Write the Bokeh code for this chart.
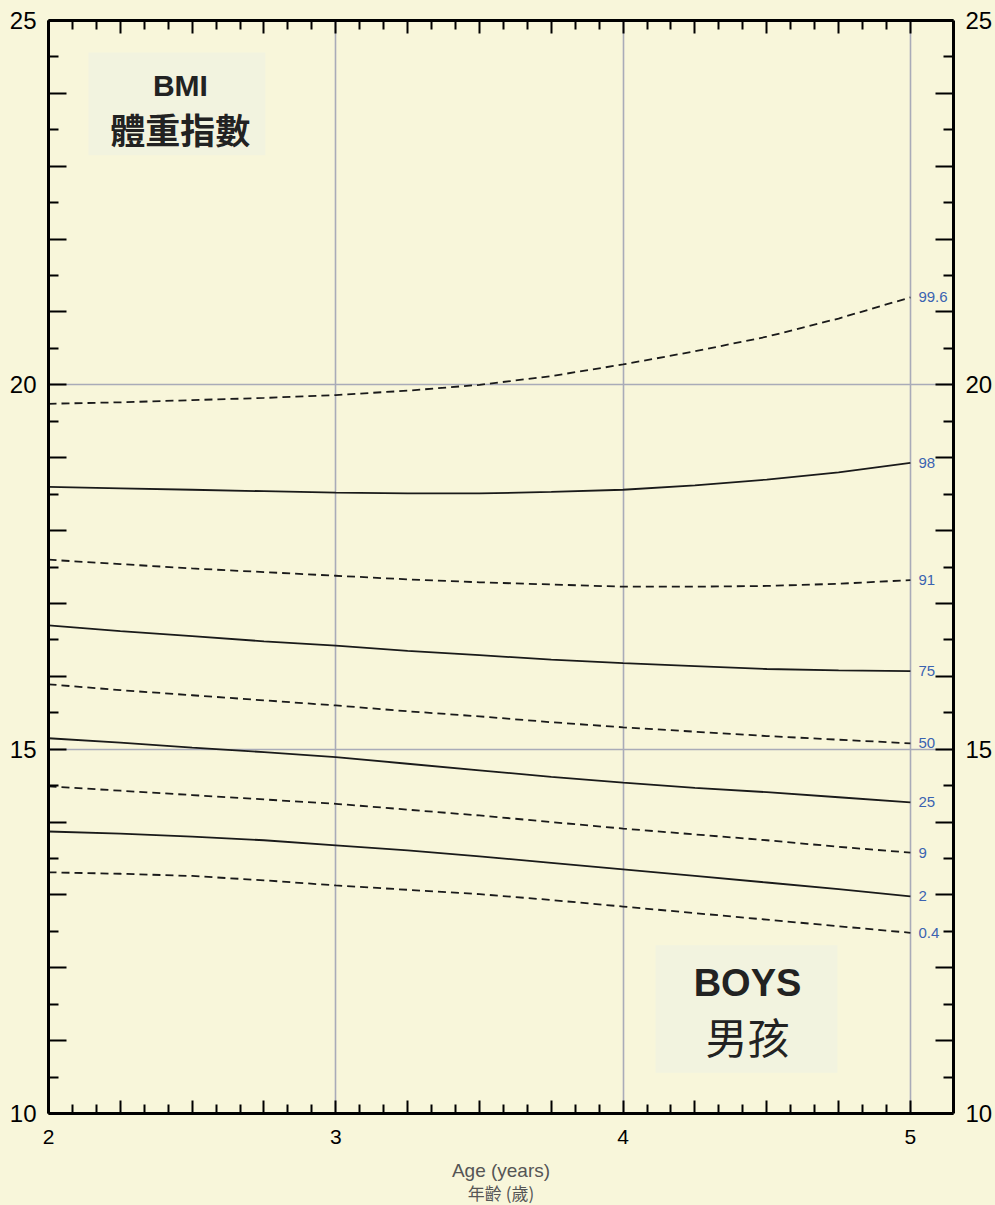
from bokeh.plotting import figure
from bokeh.models import (Range1d, LinearAxis, FixedTicker, CustomJSTickFormatter,
                          Label, BoxAnnotation, ColumnDataSource)
from bokeh.core.properties import value
from bokeh.embed import file_html
from bokeh.resources import INLINE

# ---------------- data ----------------
ages = [2.0, 2.25, 2.5, 2.75, 3.0, 3.25, 3.5, 3.75, 4.0, 4.25, 4.5, 4.75, 5.0]
c99_6 = [19.74, 19.76, 19.79, 19.82, 19.86, 19.92, 20.00, 20.12, 20.28, 20.46, 20.66, 20.91, 21.20]
c98 = [18.60, 18.58, 18.56, 18.54, 18.52, 18.51, 18.51, 18.53, 18.56, 18.62, 18.70, 18.80, 18.93]
c91 = [17.60, 17.54, 17.48, 17.43, 17.38, 17.33, 17.29, 17.26, 17.23, 17.23, 17.24, 17.27, 17.32]
c75 = [16.70, 16.62, 16.55, 16.48, 16.42, 16.35, 16.29, 16.23, 16.18, 16.14, 16.10, 16.08, 16.07]
c50 = [15.89, 15.81, 15.74, 15.67, 15.60, 15.52, 15.45, 15.37, 15.30, 15.24, 15.18, 15.13, 15.08]
c25 = [15.15, 15.09, 15.02, 14.96, 14.89, 14.80, 14.71, 14.62, 14.54, 14.47, 14.41, 14.34, 14.27]
c9 = [14.49, 14.43, 14.37, 14.31, 14.25, 14.17, 14.09, 14.00, 13.91, 13.83, 13.75, 13.66, 13.58]
c2 = [13.87, 13.84, 13.80, 13.75, 13.68, 13.61, 13.53, 13.44, 13.35, 13.26, 13.17, 13.08, 12.98]
c0_4 = [13.31, 13.29, 13.26, 13.20, 13.13, 13.07, 13.01, 12.93, 12.84, 12.75, 12.66, 12.57, 12.48]

centile_names = ["99.6", "98", "91", "75", "50", "25", "9", "2", "0.4"]
centile_values = [c99_6, c98, c91, c75, c50, c25, c9, c2, c0_4]
centile_dashed = [True, False, True, False, True, False, True, False, True]

x_labels = [2, 3, 4, 5]
y_labels = [10, 15, 20, 25]
x_title = "Age (years)"
x_title_cjk = "年齡 (歲)"

# ---------------- style ----------------
BG = "#f8f6da"
BOX = "#f2f3df"
GRID = "#a9abb8"
BLUE = "#3b63b1"
INK = "#1a1a1a"
FONT = "Liberation Sans"
CJK = "Noto Sans CJK TC"

p = figure(frame_width=905, frame_height=1093,
           x_range=Range1d(2, 5.15), y_range=Range1d(10, 25),
           output_backend="svg", toolbar_location=None,
           x_axis_location=None, y_axis_location=None,
           min_border_left=48, min_border_top=20,
           min_border_right=0, min_border_bottom=0,
           background_fill_color=BG, border_fill_color=BG)
p.outline_line_color = None

x_major = [2 + i * 0.25 for i in range(13)]
x_minor = [2 + i / 12 for i in range(37) if i % 3 != 0]
y_major = [float(v) for v in range(10, 26)]
y_minor = [10.5 + i for i in range(15)]

xfmt = CustomJSTickFormatter(code="return Number.isInteger(tick) ? tick.toFixed(0) : '';")
yfmt = CustomJSTickFormatter(code="return (Math.abs(tick % 5) < 1e-9) ? tick.toFixed(0) : '';")


def style_axis(ax, ticker, fmt, major_len, minor_len, font_size, standoff, show_labels=True):
    ax.ticker = ticker
    ax.formatter = fmt
    ax.axis_line_width = 3
    ax.axis_line_color = "black"
    ax.major_tick_in = major_len
    ax.major_tick_out = 0
    ax.minor_tick_in = minor_len
    ax.minor_tick_out = 0
    ax.major_tick_line_width = 2
    ax.minor_tick_line_width = 2
    ax.major_tick_line_color = "black"
    ax.minor_tick_line_color = "black"
    ax.major_label_text_font = FONT
    ax.major_label_text_font_size = font_size
    ax.major_label_text_color = "black"
    ax.major_label_standoff = standoff
    if not show_labels:
        ax.major_label_text_font_size = "0px"
        ax.major_label_text_color = None


bx = LinearAxis()
style_axis(bx, FixedTicker(ticks=x_major, minor_ticks=x_minor), xfmt, 13, 9, "21px", 16)
bx.axis_label = x_title
bx.axis_label_text_font = FONT
bx.axis_label_text_font_style = "normal"
bx.axis_label_text_font_size = "19px"
bx.axis_label_text_color = "#555555"
bx.axis_label_standoff = 13
p.add_layout(bx, "below")

bx2 = LinearAxis(ticker=FixedTicker(ticks=[]), axis_line_color=None,
                 major_tick_line_color=None, minor_tick_line_color=None,
                 major_label_text_font_size="0px")
bx2.axis_label = x_title_cjk
bx2.axis_label_text_font = CJK
bx2.axis_label_text_font_style = "normal"
bx2.axis_label_text_font_size = "17px"
bx2.axis_label_text_color = "#555555"
bx2.axis_label_standoff = -4
p.add_layout(bx2, "below")

tx = LinearAxis()
style_axis(tx, FixedTicker(ticks=x_major, minor_ticks=x_minor), xfmt, 13, 9, "21px", 10, show_labels=False)
p.add_layout(tx, "above")
ly = LinearAxis()
style_axis(ly, FixedTicker(ticks=y_major, minor_ticks=y_minor), yfmt, 18, 10, "24px", 12)
p.add_layout(ly, "left")
ry = LinearAxis()
style_axis(ry, FixedTicker(ticks=y_major, minor_ticks=y_minor), yfmt, 18, 10, "24px", 12)
p.add_layout(ry, "right")

# grid lines (reuse the default grids, restyled)
for g in p.xgrid:
    g.ticker = FixedTicker(ticks=x_labels[1:])
    g.grid_line_color = GRID
    g.grid_line_width = 1.6
    g.minor_grid_line_color = None
for g in p.ygrid:
    g.ticker = FixedTicker(ticks=y_labels[1:3])
    g.grid_line_color = GRID
    g.grid_line_width = 1.6
    g.minor_grid_line_color = None

# text boxes
p.add_layout(BoxAnnotation(left=2.139, right=2.755, bottom=23.15, top=24.56,
                           fill_color=BOX, fill_alpha=1.0, line_color=None, level="underlay"))
p.add_layout(BoxAnnotation(left=4.113, right=4.746, bottom=10.56, top=12.31,
                           fill_color=BOX, fill_alpha=1.0, line_color=None, level="underlay"))

# centile curves
for name, vals, dashed in zip(centile_names, centile_values, centile_dashed):
    p.line(ages, vals, line_color=INK, line_width=1.8,
           line_dash="8 5" if dashed else "solid")

lab_src = ColumnDataSource(data=dict(
    x=[ages[-1]] * len(centile_names),
    y=[v[-1] for v in centile_values],
    t=centile_names))
p.text(x="x", y="y", text="t", source=lab_src, x_offset=8,
       text_align="left", text_baseline="middle",
       text_font=value(FONT), text_font_size="15px", text_color=BLUE)

# headings
p.add_layout(Label(x=2.459, y=24.11, text="BMI", text_align="center", text_baseline="middle",
                   text_font=FONT, text_font_style="bold", text_font_size="30px", text_color="#222222"))
p.add_layout(Label(x=2.459, y=23.52, text="體重指數", text_align="center", text_baseline="middle",
                   text_font=CJK, text_font_style="bold", text_font_size="35px", text_color="#222222"))
p.add_layout(Label(x=4.433, y=11.785, text="BOYS", text_align="center", text_baseline="middle",
                   text_font=FONT, text_font_style="bold", text_font_size="38px", text_color="#222222"))
p.add_layout(Label(x=4.433, y=11.07, text="男孩", text_align="center", text_baseline="middle",
                   text_font=CJK, text_font_size="42px", text_color="#222222"))

html = file_html(p, INLINE)
html = html.replace("<head>", "<head><style>html,body{background-color:%s;margin:0;}</style>" % BG, 1)
open("out.html", "w").write(html)
